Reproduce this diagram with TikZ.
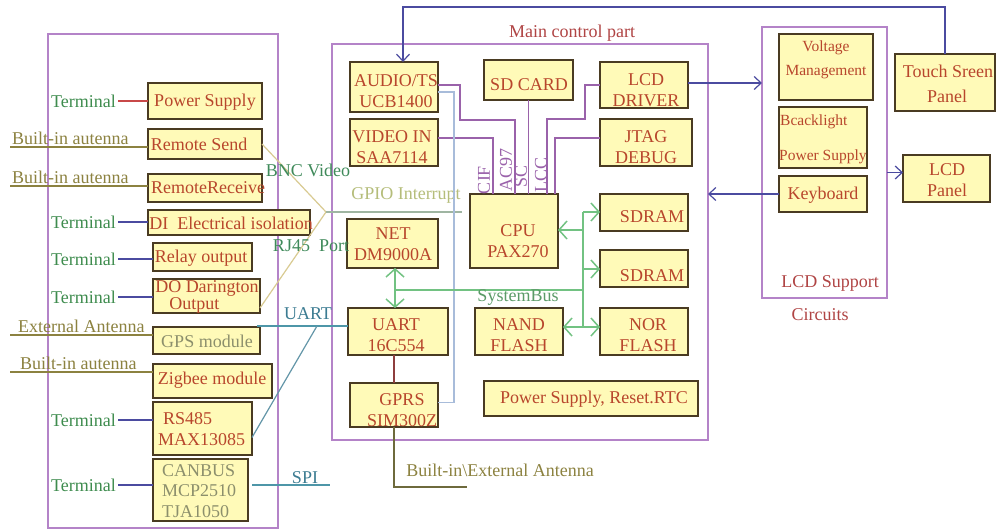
\documentclass[tikz,border=0pt]{standalone}
\usepackage{fontspec}
\setmainfont{Liberation Serif}
\usetikzlibrary{arrows.meta}
\definecolor{boxfill}{HTML}{FFFAB8}
\definecolor{boxline}{HTML}{4A3B22}
\definecolor{boxtext}{HTML}{B8462C}
\definecolor{graytext}{HTML}{8C8F6C}
\definecolor{framec}{HTML}{B483C8}
\definecolor{termc}{HTML}{3E8C4E}
\definecolor{antc}{HTML}{8C8240}
\definecolor{bluel}{HTML}{4B4BA0}
\definecolor{redl}{HTML}{C84848}
\definecolor{purl}{HTML}{9A62AA}
\definecolor{lbl}{HTML}{A8BCDA}
\definecolor{busg}{HTML}{72C282}
\definecolor{tealt}{HTML}{3C7C92}
\definecolor{teall}{HTML}{4E96A8}
\definecolor{tanl}{HTML}{D9CB92}
\definecolor{gpiot}{HTML}{B5BD7A}
\definecolor{gpiol}{HTML}{9FB5A2}
\definecolor{titlec}{HTML}{B04444}
\definecolor{brownl}{HTML}{8E3E3E}
\definecolor{antdark}{HTML}{6E6A3C}
\definecolor{greent}{HTML}{3F8A5A}
\newcommand\myfs{\fontsize{18}{20.5}\selectfont}
\newcommand\mysmall{\fontsize{15.5}{17}\selectfont}
\newcommand\mybox[5]{\node[box, minimum width={(#4-#2)*1pt}, minimum height={(#5-#3)*1pt}] (#1) at ({(#2+#4)/2},{(#3+#5)/2}) {};}
\newcommand\myframe[5]{\node[frm, minimum width={(#4-#2)*1pt}, minimum height={(#5-#3)*1pt}] (#1) at ({(#2+#4)/2},{(#3+#5)/2}) {};}
\begin{document}
\begin{tikzpicture}[x=1pt,y=-1pt,
 box/.style={draw=boxline, fill=boxfill, line width=1.2pt, inner sep=0pt, outer sep=0pt},
 frm/.style={draw=framec, line width=1.6pt, inner sep=0pt, outer sep=0pt},
 bt/.style={text=boxtext, font=\myfs, align=center, inner sep=0pt},
 gt/.style={bt, text=graytext},
 st/.style={text=boxtext, font=\mysmall, inner sep=0pt},
 lab/.style={font=\myfs, inner sep=0pt},
 term/.style={lab, text=termc, anchor=east},
 ant/.style={lab, text=antc, anchor=base west},
 conn/.style={line width=1.2pt},
 bln/.style={conn, draw=bluel},
 barrow/.style={bln, -{Straight Barb[length=7pt,width=13pt,line width=1.2pt]}},
 gbus/.style={draw=busg, line width=1.5pt},
 garrow/.style={gbus, -{Straight Barb[length=8pt,width=18pt,line width=1.5pt]}},
 pln/.style={conn, draw=purl},
 rot/.style={text=purl, font=\myfs, rotate=90, inner sep=0pt}
]
\fill[white] (0,0) rectangle (996,532);
\useasboundingbox (0,0) rectangle (996,532);

% frames
\myframe{lf}{48}{34}{278}{528}
\myframe{mf}{332}{44}{708}{440}
\myframe{lsf}{762}{27}{887}{298}

% left boxes
\mybox{ps}{148}{83}{262}{119}
\mybox{rs}{148}{129}{262}{159}
\mybox{rr}{148}{174}{262}{202}
\mybox{di}{148}{210}{310}{235}
\mybox{ro}{153}{243}{252}{271}
\mybox{do}{153}{279}{260}{313}
\mybox{gps}{153}{327}{260}{354}
\mybox{zig}{153}{364}{272}{398}
\mybox{rsm}{153}{402}{252}{455}
\mybox{can}{153}{459}{248}{521}

% main boxes
\mybox{au}{350}{62}{438}{112}
\mybox{vi}{350}{119}{438}{166}
\mybox{sd}{484}{60}{573}{100}
\mybox{lcd}{600}{62}{688}{108}
\mybox{jt}{600}{119}{692}{166}
\mybox{cpu}{470}{194}{558}{268}
\mybox{sdra}{600}{194}{688}{231}
\mybox{sdrb}{600}{250}{688}{287}
\mybox{net}{347}{219}{438}{268}
\mybox{uart}{348}{308}{448}{355}
\mybox{nand}{475}{308}{563}{355}
\mybox{nor}{600}{308}{688}{355}
\mybox{gprs}{350}{383}{438}{427}
\mybox{psr}{484}{381}{698}{416}

% LCD support boxes
\mybox{vm}{779}{34}{873}{100}
\mybox{bl}{779}{107}{867}{168}
\mybox{kb}{779}{176}{867}{212}
\mybox{ts}{895}{54}{995}{111}
\mybox{lp}{903}{155}{990}{202}

% left labels
\node[term] (t1) at (116,101) {Terminal};
\node[term] (t2) at (116,222) {Terminal};
\node[term] (t3) at (116,259) {Terminal};
\node[term] (t4) at (116,297) {Terminal};
\node[term] (t5) at (116,420) {Terminal};
\node[term] (t6) at (116,485) {Terminal};
\draw[conn, draw=redl] ([xshift=2pt]t1.east) -- (t1.east -| ps.west);
\draw[bln] ([xshift=2pt]t2.east) -- (t2.east -| di.west);
\draw[bln] ([xshift=2pt]t3.east) -- (t3.east -| ro.west);
\draw[bln] ([xshift=2pt]t4.east) -- (t4.east -| do.west);
\draw[bln] ([xshift=2pt]t5.east) -- (t5.east -| rsm.west);
\draw[bln] ([xshift=2pt]t6.east) -- (t6.east -| can.west);

\node[ant] (a1) at (12,145) {Built-in autenna};
\node[ant] (a2) at (12,183) {Built-in autenna};
\node[ant] (a3) at (18,332) {External Antenna};
\node[ant] (a4) at (20,369) {Built-in autenna};
\coordinate (a1s) at (10,147);
\coordinate (a2s) at (10,186);
\coordinate (a3s) at (10,335);
\coordinate (a4s) at (10,372);
\draw[conn, draw=antc] (a1s) -- (a1s -| rs.west);
\draw[conn, draw=antc] (a2s) -- (a2s -| rr.west);
\draw[conn, draw=antc] (a3s) -- (a3s -| gps.west);
\draw[conn, draw=antc] (a4s) -- (a4s -| zig.west);

% converging lines
\coordinate (cv) at (326,212);
\coordinate (gp) at (462,212);
\draw[conn, draw=tanl] (rs.east) -- (cv);
\draw[conn, draw=tanl] ([yshift=5pt]do.south east) -- (cv);
\draw[conn, draw=gpiol] (cv) -- (gp);
\node[lab, text=greent] (bnc) at (308,170) {BNC Video};
\node[lab, text=gpiot] (gpio) at (406,195) {GPIO Interrupt};
\node[lab, text=greent] (rj) at (311,246) {RJ45\enspace Port};

% UART / SPI
\coordinate (uj) at (317,326);
\draw[conn, draw=teall] ([xshift=-3pt,yshift=1pt]gps.north east) -- (uj) -- (uj -| uart.west);
\draw[conn, draw=tealt!80] ([yshift=-9pt]rsm.east) -- (uj);
\node[lab, text=tealt] (uartl) at (308,314) {UART};
\coordinate (spie) at (330,485);
\draw[conn, draw=teall] (spie -| can.east) ++(4,0) -- (spie);
\node[lab, text=tealt] (spil) at (305,478) {SPI};

% main internal purple links
\coordinate (kac) at (515,120);
\draw[pln] ([yshift=2pt]au.east) -| (460,120) -- (kac) -- (kac |- cpu.north);
\draw[pln] ([yshift=4.5pt]vi.east) -| ([xshift=-21pt]cpu.north);
\draw[pln] (sd.south) -- (sd.south |- cpu.north);
\draw[pln] (lcd.west) -| (585,119) -| ([xshift=33pt]cpu.north);
\draw[pln] ([yshift=4.5pt]jt.west) -| ([xshift=41pt]cpu.north);
\node[rot] (cif) at (484,180) {CIF};
\node[rot] (ac97) at (506,170) {AC97};
\node[rot] (scl) at (521,176) {SC};
\node[rot] (lcc) at (541,175) {LCC};

% light blue audio-gprs
\draw[conn, draw=lbl] ([yshift=-5pt]au.east) -| (454,300) |- ([yshift=2.5pt]gprs.east);

% system bus
\coordinate (bt) at (583,212);
\coordinate (bb) at (583,327);
\coordinate (nb) at (395,290);
\coordinate (ca) at (583,230);
\coordinate (cb) at (583,269);
\draw[gbus] (bt) -- (bb);
\draw[gbus] (nb) -- (nb -| bt);
\draw[garrow] (nb) -- (nb |- net.south);
\draw[garrow] (nb) -- (nb |- uart.north);
\draw[garrow] (bt) -- (bt -| sdra.west);
\draw[garrow] (ca) -- (ca -| cpu.east);
\draw[garrow] (cb) -- (cb -| sdrb.west);
\draw[garrow] (bb) -- (bb -| nor.west);
\draw[garrow] (bb) -- (bb -| nand.east);
\node[lab, text=busg!80!black] (sysb) at (518,297) {SystemBus};

% uart-gprs, gprs antenna
\draw[conn, draw=brownl] (gprs.north |- uart.south) -- (gprs.north);
\coordinate (antend) at (467,487);
\draw[conn, draw=antdark] (gprs.south) |- (antend);
\node[lab, text=antc] (antl) at (500,470) {Built-in\textbackslash External Antenna};

% top and LCD links
\draw[barrow] (ts.north) -- ++(0,-47) -| ([xshift=9pt]au.north);
\draw[barrow] ([yshift=2pt]lcd.east) -- ([yshift=2pt]lcd.east -| lsf.west);
\draw[barrow] (kb.west) -- (kb.west -| mf.east);
\draw[barrow] ([yshift=6pt]lp.west -| lsf.east) -- ([yshift=6pt]lp.west);

% titles
\node[lab, text=titlec] (mtitle) at (572,33) {Main control part};
\node[lab, text=titlec] (lsup) at (830,283) {LCD Support};
\node[lab, text=titlec] (circ) at (820,315) {Circuits};

% box texts left
\node[bt] (ps-t) at (205,102) {Power Supply};
\node[bt] (rs-t) at (199,144) {Remote Send};
\node[bt] (rr-t) at (208,188) {RemoteReceive};
\node[bt] (di-t) at (231,223) {DI\enspace Electrical isolation};
\node[bt] (ro-t) at (201,258) {Relay output};
\node[bt, align=left] (do-t) at (207,297) {DO Darington\\[-3pt]\hspace*{14pt}Output};
\node[gt] (gps-t) at (207,341) {GPS module};
\node[bt] (zig-t) at (212,380) {Zigbee module};
\node[bt, align=left, anchor=west] (rsm-t) at (158,429) {\hspace*{5pt}RS485\\MAX13085};
\node[gt, align=left, anchor=west] (can-t) at (162,491) {CANBUS\\MCP2510\\TJA1050};

% box texts main
\node[bt] (au-t) at (396,91) {AUDIO/TS\\UCB1400};
\node[bt] (vi-t) at (392,147) {VIDEO IN\\SAA7114};
\node[bt] (sd-t) at (529,85) {SD CARD};
\node[bt] (lcd-t) at (646,90) {LCD\\DRIVER};
\node[bt] (jt-t) at (646,147) {JTAG\\DEBUG};
\node[bt] (cpu-t) at (518,241) {CPU\\PAX270};
\node[bt] (sdra-t) at (652,217) {SDRAM};
\node[bt] (sdrb-t) at (652,276) {SDRAM};
\node[bt] (net-t) at (393,244) {NET\\DM9000A};
\node[bt] (uart-t) at (396,335) {UART\\16C554};
\node[bt] (nand-t) at (519,335) {NAND\\FLASH};
\node[bt] (nor-t) at (648,335) {NOR\\FLASH};
\node[bt] (gprs-t) at (402,410) {GPRS\\SIM300Z};
\node[bt] (psr-t) at (594,399) {Power Supply, Reset.RTC};

% box texts LCD support
\node[st] (vm-a) at (826,48) {Voltage};
\node[st] (vm-b) at (826,72) {Management};
\node[st, anchor=west] (bl-a) at (780,122) {Bcacklight};
\node[st, anchor=west] (bl-b) at (779,157) {Power Supply};
\node[bt] (kb-t) at (823,195) {Keyboard};
\node[bt] (ts-a) at (948,71) {Touch Sreen};
\node[bt] (ts-b) at (947,96) {Panel};
\node[bt] (lp-t) at (947,180) {LCD\\Panel};
\end{tikzpicture}
\end{document}
